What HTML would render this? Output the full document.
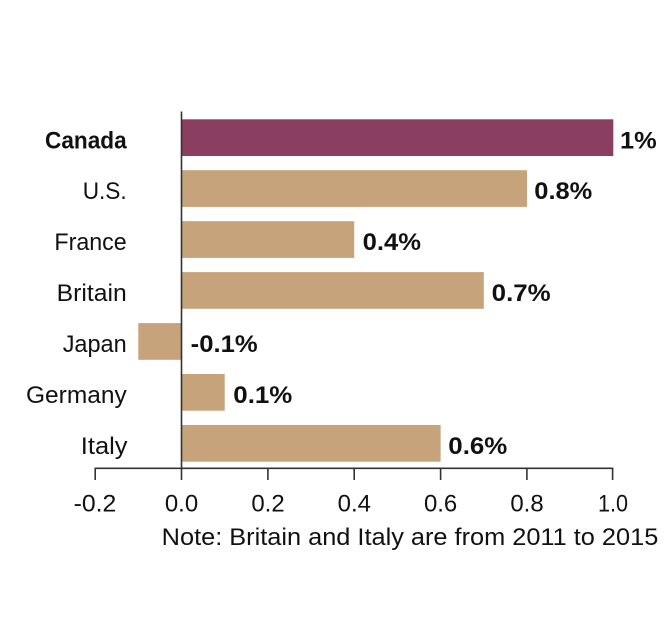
<!DOCTYPE html>
<html>
<head>
<meta charset="utf-8">
<style>
html,body{margin:0;padding:0;background:#fff;}
svg{display:block;}
text{font-family:"Liberation Sans",sans-serif;fill:#111;}
.c{font-size:24px;}
.v{font-size:24px;font-weight:bold;}
</style>
</head>
<body>
<svg width="670" height="618" viewBox="0 0 670 618" xmlns="http://www.w3.org/2000/svg">
<rect width="670" height="618" fill="#fff"/>
<!-- bars -->
<rect x="181.5" y="119.3" width="431.8" height="36.7" fill="#8A3F60"/>
<rect x="181.5" y="170.2" width="345.5" height="36.7" fill="#C6A37A"/>
<rect x="181.5" y="221.2" width="172.7" height="36.7" fill="#C6A37A"/>
<rect x="181.5" y="272.1" width="302.3" height="36.7" fill="#C6A37A"/>
<rect x="138.3" y="323.1" width="43.2" height="36.7" fill="#C6A37A"/>
<rect x="181.5" y="374.0" width="43.2" height="36.7" fill="#C6A37A"/>
<rect x="181.5" y="425.0" width="259.1" height="36.7" fill="#C6A37A"/>
<!-- axes -->
<line x1="181.5" y1="111.5" x2="181.5" y2="468.5" stroke="#333" stroke-width="1.6"/>
<line x1="94.7" y1="468.3" x2="613.3" y2="468.3" stroke="#333" stroke-width="1.6"/>
<g stroke="#333" stroke-width="1.6">
<line x1="95.2" y1="468" x2="95.2" y2="480"/>
<line x1="181.5" y1="468" x2="181.5" y2="480"/>
<line x1="267.9" y1="468" x2="267.9" y2="480"/>
<line x1="354.2" y1="468" x2="354.2" y2="480"/>
<line x1="440.6" y1="468" x2="440.6" y2="480"/>
<line x1="526.9" y1="468" x2="526.9" y2="480"/>
<line x1="612.6" y1="468" x2="612.6" y2="480"/>
</g>
<!-- category labels -->
<text class="c" x="126.7" y="148.3" text-anchor="end" font-weight="bold" textLength="81.7" lengthAdjust="spacingAndGlyphs">Canada</text>
<text class="c" x="126.7" y="199.2" text-anchor="end" textLength="44" lengthAdjust="spacingAndGlyphs">U.S.</text>
<text class="c" x="126.7" y="250.2" text-anchor="end" textLength="72.3" lengthAdjust="spacingAndGlyphs">France</text>
<text class="c" x="126.7" y="301.1" text-anchor="end" textLength="70" lengthAdjust="spacingAndGlyphs">Britain</text>
<text class="c" x="126.7" y="352.1" text-anchor="end" textLength="64" lengthAdjust="spacingAndGlyphs">Japan</text>
<text class="c" x="126.7" y="403.0" text-anchor="end" textLength="100.7" lengthAdjust="spacingAndGlyphs">Germany</text>
<text class="c" x="127.5" y="454.0" text-anchor="end" textLength="46.7" lengthAdjust="spacingAndGlyphs">Italy</text>
<!-- value labels -->
<text class="v" x="620" y="148.3" textLength="36.7" lengthAdjust="spacingAndGlyphs">1%</text>
<text class="v" x="534.3" y="199.2" textLength="58" lengthAdjust="spacingAndGlyphs">0.8%</text>
<text class="v" x="362.7" y="250.2" textLength="58.3" lengthAdjust="spacingAndGlyphs">0.4%</text>
<text class="v" x="491.7" y="301.1" textLength="59" lengthAdjust="spacingAndGlyphs">0.7%</text>
<text class="v" x="190.7" y="352.1" textLength="67" lengthAdjust="spacingAndGlyphs">-0.1%</text>
<text class="v" x="233.3" y="403.0" textLength="59" lengthAdjust="spacingAndGlyphs">0.1%</text>
<text class="v" x="448.3" y="454.0" textLength="59" lengthAdjust="spacingAndGlyphs">0.6%</text>
<!-- tick labels -->
<text class="c" x="95" y="511.5" text-anchor="middle" textLength="42.7" lengthAdjust="spacingAndGlyphs">-0.2</text>
<text class="c" x="181.5" y="511.5" text-anchor="middle" textLength="33.3" lengthAdjust="spacingAndGlyphs">0.0</text>
<text class="c" x="268" y="511.5" text-anchor="middle" textLength="33.3" lengthAdjust="spacingAndGlyphs">0.2</text>
<text class="c" x="354.3" y="511.5" text-anchor="middle" textLength="33.3" lengthAdjust="spacingAndGlyphs">0.4</text>
<text class="c" x="440.6" y="511.5" text-anchor="middle" textLength="33.3" lengthAdjust="spacingAndGlyphs">0.6</text>
<text class="c" x="527" y="511.5" text-anchor="middle" textLength="33.3" lengthAdjust="spacingAndGlyphs">0.8</text>
<text class="c" x="613" y="511.5" text-anchor="middle" textLength="30" lengthAdjust="spacingAndGlyphs">1.0</text>
<!-- note -->
<text class="c" x="161.7" y="545" textLength="496.6" lengthAdjust="spacingAndGlyphs">Note: Britain and Italy are from 2011 to 2015</text>
</svg>
</body>
</html>
